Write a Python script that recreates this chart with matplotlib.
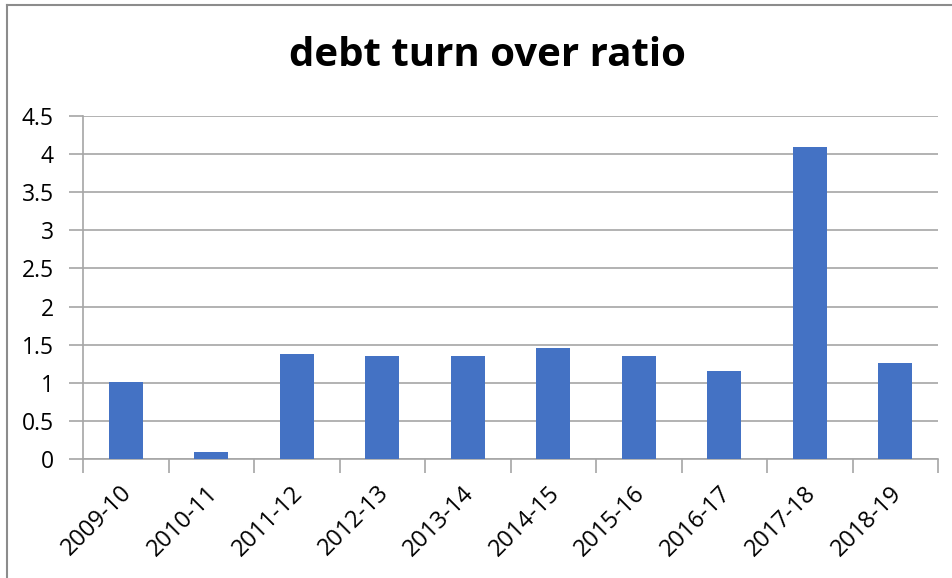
import matplotlib.pyplot as plt
import numpy as np
from matplotlib.lines import Line2D
from matplotlib.transforms import ScaledTranslation

years = ["2009-10", "2010-11", "2011-12", "2012-13", "2013-14",
         "2014-15", "2015-16", "2016-17", "2017-18", "2018-19"]
ratio = [1.01, 0.09, 1.38, 1.35, 1.35, 1.45, 1.35, 1.15, 4.09, 1.265]
yticks = [0, 0.5, 1, 1.5, 2, 2.5, 3, 3.5, 4, 4.5]

plt.rcParams["font.family"] = ["Open Sans", "DejaVu Sans"]

W, H = 952, 578
fig = plt.figure(figsize=(W / 100, H / 100), dpi=100)
ax = fig.add_axes([83 / W, 1 - 459 / H, 855 / W, 343 / H])

x = np.arange(len(years))
ax.bar(x, ratio, width=0.4, color="#4472C4", zorder=3)

ax.set_xlim(-0.5, len(years) - 0.5)
ax.set_ylim(0, 4.5)
ax.set_yticks(yticks)
ax.set_yticklabels([("%g" % v) for v in yticks], fontsize=16.5)
ax.yaxis.grid(True, color="#A6A6A6", linewidth=1.2, zorder=0)
ax.tick_params(axis="y", length=10, color="#A6A6A6", width=1.2, pad=11)

ax.set_xticks(x)
ax.set_xticklabels(years, rotation=45, ha="right", va="center",
                   rotation_mode="anchor", fontsize=17)
ax.tick_params(axis="x", which="major", length=0, pad=22)
shift = ScaledTranslation(3 / 100, 0, fig.dpi_scale_trans)
for lab in ax.get_xticklabels():
    lab.set_transform(lab.get_transform() + shift)
ax.set_xticks(np.arange(-0.5, len(years)), minor=True)
ax.tick_params(axis="x", which="minor", length=10, color="#A6A6A6", width=1.2)

for s in ["top", "right"]:
    ax.spines[s].set_visible(False)
for s in ["left", "bottom"]:
    ax.spines[s].set_color("#A6A6A6")
    ax.spines[s].set_linewidth(1.2)

fig.text(487 / W, 1 - 55 / H, "debt turn over ratio", ha="center", va="center",
         fontsize=29, fontweight="bold")

# outer chart border (only top and left edges visible in the crop)
fig.lines.append(Line2D([7 / W, 1], [1 - 5 / H, 1 - 5 / H], transform=fig.transFigure,
                        color="#8C8C8C", linewidth=1.5))
fig.lines.append(Line2D([7 / W, 7 / W], [0, 1 - 5 / H], transform=fig.transFigure,
                        color="#8C8C8C", linewidth=1.5))

fig.savefig("out.png", dpi=100)
